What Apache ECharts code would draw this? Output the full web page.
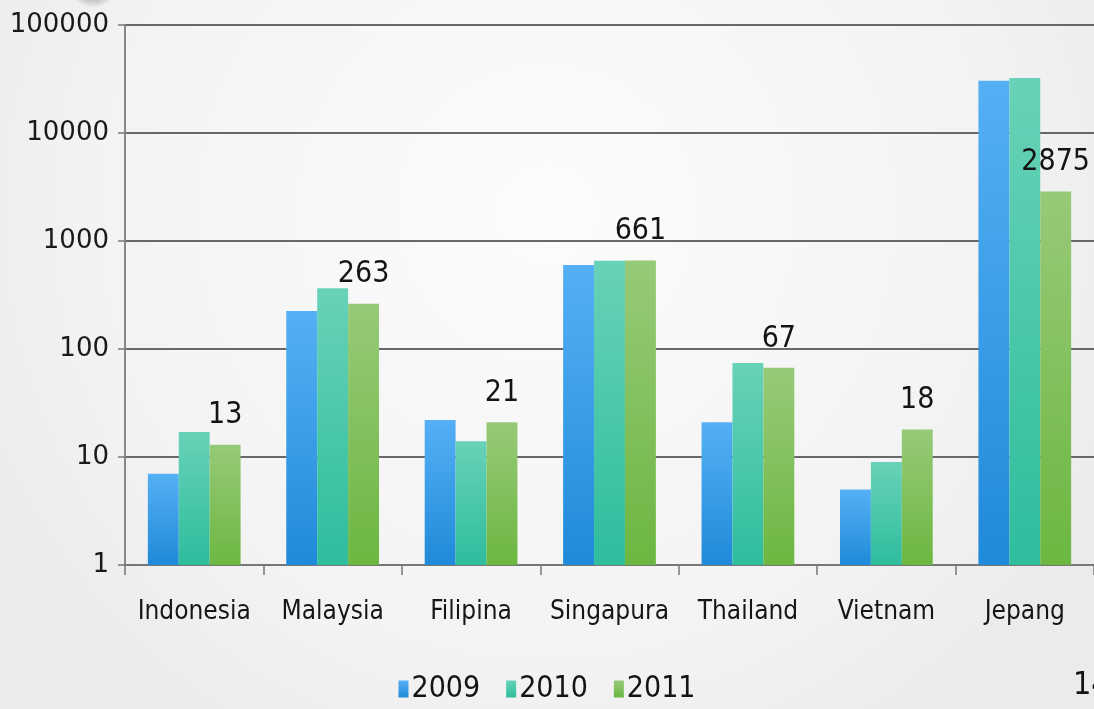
<!DOCTYPE html>
<html>
<head>
<meta charset="utf-8">
<script src="https://cdn.jsdelivr.net/npm/echarts@6/dist/echarts.min.js"></script>
<style>
  html, body { margin: 0; padding: 0; }
  #chart { width: 1094px; height: 709px; }
</style>
</head>
<body>
<div id="chart"></div>
<script>
const countries = ['Indonesia', 'Malaysia', 'Filipina', 'Singapura', 'Thailand', 'Vietnam', 'Jepang'];
const years = ['2009', '2010', '2011'];
const values2009 = [7, 225, 22, 600, 21, 5, 30500];
const values2010 = [17, 365, 14, 655, 74, 9, 32300];
const values2011 = [13, 263, 21, 661, 67, 18, 2875];
const yTicks = [1, 10, 100, 1000, 10000, 100000];

const condensed = '"DejaVu Sans Condensed", "Liberation Sans Narrow", sans-serif';

const barGradient = (top, bottom) => new echarts.graphic.LinearGradient(0, 0, 0, 1, [
  { offset: 0, color: top },
  { offset: 1, color: bottom }
]);

const palette = [
  barGradient('#55b0f5', '#1f8ad9'),
  barGradient('#68d2b8', '#2ebd9d'),
  barGradient('#97ca78', '#6cb741')
];

const makeSeries = (name, data, idx, withLabel) => ({
  name: name,
  type: 'bar',
  data: data,
  barGap: '0%',
  barCategoryGap: '33%',
  itemStyle: { color: palette[idx] },
  label: {
    show: withLabel,
    position: 'top',
    distance: 14,
    color: '#141414',
    fontFamily: condensed,
    fontSize: 30
  },
  emphasis: { disabled: true }
});

const chart = echarts.init(document.getElementById('chart'));

chart.setOption({
  animation: false,
  backgroundColor: new echarts.graphic.RadialGradient(0.5, 0.3, 0.9, [
    { offset: 0, color: '#fcfcfc' },
    { offset: 0.7, color: '#f3f3f3' },
    { offset: 1, color: '#ebebeb' }
  ]),
  color: ['#2f98e6', '#3cc6a6', '#78bd4e'],
  grid: {
    left: 125,
    right: -11,
    top: 25,
    bottom: 144
  },
  legend: {
    bottom: 0,
    left: 'center',
    itemWidth: 10,
    itemHeight: 17,
    itemGap: 26,
    icon: 'rect',
    textStyle: {
      color: '#141414',
      fontFamily: condensed,
      fontSize: 30,
      padding: [0, 0, 0, -2]
    },
    data: years
  },
  xAxis: {
    type: 'category',
    data: countries,
    axisLine: { lineStyle: { color: '#777', width: 2 } },
    axisTick: { show: true, interval: 0, length: 10, lineStyle: { color: '#777', width: 1.5 } },
    axisLabel: {
      interval: 0,
      hideOverlap: false,
      color: '#161616',
      fontFamily: condensed,
      fontSize: 26,
      margin: 34
    }
  },
  yAxis: {
    type: 'log',
    logBase: 10,
    min: yTicks[0],
    max: yTicks[yTicks.length - 1],
    axisLine: { show: true, lineStyle: { color: '#888', width: 2 } },
    axisTick: { show: true, length: 7, lineStyle: { color: '#777', width: 1.5 } },
    splitLine: { lineStyle: { color: '#686868', width: 2 } },
    axisLabel: {
      color: '#1a1a1a',
      fontFamily: '"DejaVu Sans", sans-serif',
      fontSize: 26,
      margin: 16,
      formatter: (v) => String(Math.round(v))
    }
  },
  graphic: [
    {
      type: 'circle',
      shape: { cx: 93, cy: -18, r: 26 },
      style: {
        fill: new echarts.graphic.RadialGradient(0.5, 0.5, 0.5, [
          { offset: 0, color: 'rgba(70,70,70,0.85)' },
          { offset: 1, color: 'rgba(70,70,70,0)' }
        ])
      },
      silent: true
    },
    {
      type: 'text',
      left: 1073,
      top: 670,
      style: {
        text: '14',
        fill: '#141414',
        font: '32px ' + condensed
      }
    }
  ],
  series: [
    makeSeries(years[0], values2009, 0, false),
    makeSeries(years[1], values2010, 1, false),
    makeSeries(years[2], values2011, 2, true)
  ]
});
</script>
</body>
</html>
